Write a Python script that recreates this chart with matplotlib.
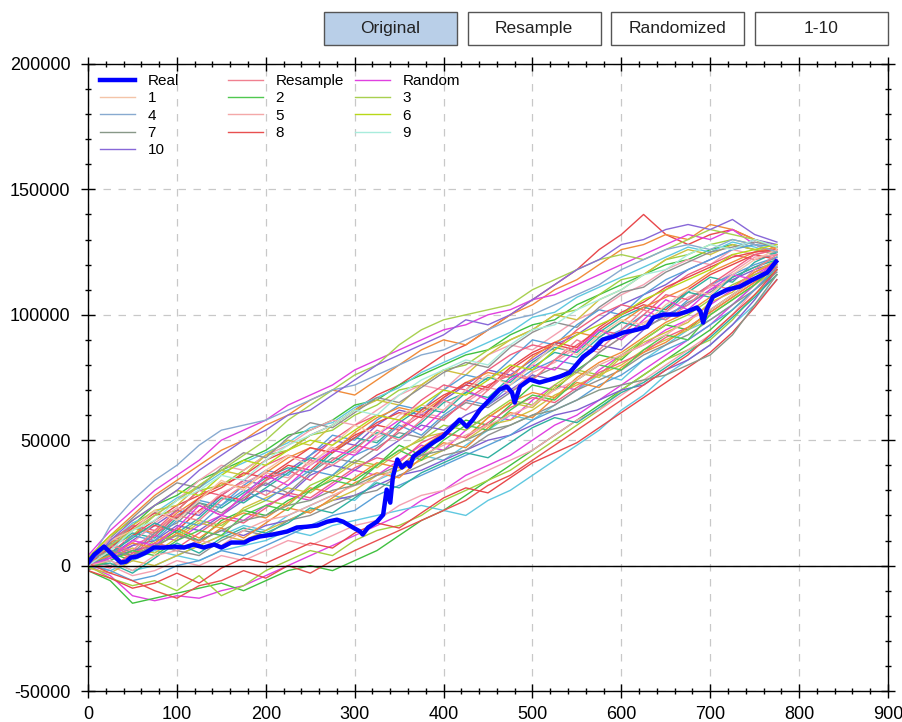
import matplotlib
matplotlib.use('Agg')
import matplotlib.pyplot as plt
from matplotlib.patches import Rectangle
from matplotlib.legend import Legend
from matplotlib.ticker import MultipleLocator
import numpy as np

plt.rcParams['font.family'] = ['Liberation Sans', 'DejaVu Sans']
plt.rcParams['axes.unicode_minus'] = False

# trade number grid for the simulated runs (values in thousands)
steps = list(range(0, 800, 25))

# real equity curve
real_x = [1, 7, 18, 24, 31, 37, 43, 48, 55, 65, 74, 86, 97, 108, 119, 130, 142, 150, 161, 176,
          182, 193, 208, 224, 235, 246, 258, 269, 280, 287, 298, 306, 309, 315, 325, 332, 336, 340,
          343, 348, 353, 359, 362, 366, 377, 388, 399, 407, 418, 426, 433, 441, 452, 463, 471, 477,
          480, 486, 497, 508, 520, 531, 542, 557, 568, 579, 591, 602, 618, 629, 636, 647, 663, 674,
          685, 689, 692, 696, 703, 719, 733, 748, 764, 774]
real_y = [1600, 4400, 7600, 5600, 3200, 1200, 1600, 3200, 3600, 5200, 7200, 7200, 7600, 7200, 8400,
          7200, 8400, 7200, 9200, 9200, 10400, 11600, 12400, 13600, 15200, 15500, 16000, 17500, 18300,
          17500, 15200, 13600, 12400, 15200, 17500, 20300, 30300, 25100, 35500, 42300, 39100, 41100,
          39500, 43500, 46200, 49000, 51400, 54200, 58200, 55400, 58200, 62200, 66200, 70200, 71400,
          69000, 65000, 71400, 74200, 73000, 74200, 75400, 77000, 83300, 86100, 90100, 91300, 92900,
          94100, 95300, 98900, 100100, 100100, 101300, 102900, 101300, 96900, 102100, 107200, 110000,
          111200, 114000, 116800, 121200]

# labelled runs (legend entries)
run_labels = ['Resample', 'Random', '1', '2', '3', '4', '5', '6', '7', '8', '9', '10']
run_colors = ['#f08090', '#e040e0', '#f4c4a8', '#50c850', '#a8d050', '#88aad0',
              '#f4a8a8', '#b8d818', '#889888', '#e85050', '#a8ecdc', '#8868d8']
labelled_runs = [
    [1, 8, 6, 14, 20, 18, 26, 32, 28, 34, 42, 40, 46, 54, 50, 58, 66, 62, 70, 78, 74, 82, 90, 86, 94, 102, 98, 104, 112, 110, 118, 124],
    [0, 3, 10, 8, 15, 24, 20, 28, 36, 32, 40, 46, 44, 52, 58, 54, 62, 70, 66, 74, 80, 78, 86, 94, 90, 98, 106, 102, 110, 116, 114, 122],
    [2, 10, 14, 22, 18, 26, 34, 30, 38, 44, 40, 48, 56, 52, 60, 64, 62, 70, 76, 72, 80, 88, 84, 92, 98, 96, 104, 110, 108, 116, 122, 126],
    [-1, 2, 6, 4, 10, 14, 12, 20, 24, 22, 30, 34, 32, 40, 46, 42, 50, 56, 54, 62, 68, 66, 74, 80, 78, 86, 92, 90, 100, 106, 112, 120],
    [2, 8, 14, 20, 26, 32, 38, 44, 50, 58, 64, 70, 76, 80, 88, 94, 98, 100, 102, 104, 110, 114, 118, 122, 124, 122, 126, 130, 134, 132, 130, 127],
    [0, 16, 26, 34, 40, 48, 54, 56, 58, 62, 66, 70, 72, 76, 80, 84, 86, 90, 94, 98, 100, 104, 108, 112, 118, 122, 126, 128, 126, 130, 128, 125],
    [0, 2, -2, 4, 6, 10, 8, 14, 18, 20, 24, 28, 32, 34, 40, 44, 48, 52, 56, 60, 64, 70, 74, 80, 84, 88, 92, 98, 102, 108, 114, 120],
    [3, 12, 18, 24, 30, 28, 36, 42, 40, 46, 50, 48, 54, 60, 58, 64, 70, 68, 74, 80, 78, 86, 92, 96, 100, 106, 110, 114, 118, 124, 126, 128],
    [2, 6, 4, 8, 12, 10, 14, 18, 20, 24, 26, 30, 32, 36, 40, 44, 46, 50, 54, 56, 60, 62, 66, 70, 72, 74, 76, 80, 84, 92, 104, 116],
    [1, -3, -6, -10, -13, -8, -6, -2, -5, 0, -3, 2, 6, 10, 14, 18, 22, 26, 32, 36, 42, 48, 54, 60, 66, 72, 78, 84, 92, 100, 108, 118],
    [0, 6, 14, 18, 26, 30, 36, 34, 42, 48, 52, 56, 62, 60, 68, 74, 78, 82, 80, 88, 94, 96, 102, 106, 110, 116, 118, 124, 128, 126, 130, 127],
    [0, 10, 18, 24, 30, 38, 44, 50, 54, 60, 62, 68, 74, 80, 84, 88, 92, 98, 96, 100, 106, 112, 118, 122, 128, 130, 134, 136, 134, 138, 132, 129],
]

# remaining runs, no legend
upper_runs = [
    [1, 5, 12, 18, 24, 28, 32, 36, 42, 46, 52, 56, 62, 68, 72, 78, 84, 88, 94, 100, 106, 112, 118, 126, 132, 140, 132, 128, 132, 134, 130, 127],
    [3, 12, 20, 28, 34, 40, 46, 50, 56, 60, 66, 70, 68, 74, 80, 86, 90, 88, 94, 100, 104, 110, 114, 120, 126, 128, 132, 130, 136, 134, 130, 126],
    [4, 14, 22, 30, 36, 42, 50, 54, 58, 64, 68, 72, 78, 82, 86, 90, 94, 96, 100, 102, 106, 108, 112, 116, 120, 124, 128, 132, 130, 134, 128, 124],
    [2, 10, 16, 24, 28, 34, 38, 42, 46, 52, 54, 58, 64, 66, 72, 76, 80, 84, 86, 92, 96, 98, 104, 108, 112, 116, 120, 122, 126, 128, 126, 124],
    [1, 8, 12, 20, 22, 30, 32, 38, 44, 46, 52, 54, 60, 64, 70, 72, 78, 80, 86, 90, 94, 100, 102, 108, 114, 116, 122, 124, 128, 130, 128, 125],
    [3, 9, 17, 21, 27, 31, 37, 41, 45, 49, 55, 57, 63, 67, 71, 77, 81, 85, 89, 93, 99, 101, 107, 111, 115, 119, 123, 127, 125, 129, 127, 124],
    [-2, 4, 10, 16, 22, 20, 28, 34, 32, 38, 44, 50, 48, 56, 62, 60, 66, 72, 78, 76, 82, 88, 92, 98, 104, 108, 112, 118, 122, 126, 130, 128],
    [0, 6, 14, 20, 26, 34, 40, 38, 44, 48, 54, 58, 56, 62, 68, 72, 70, 78, 84, 88, 86, 92, 98, 102, 108, 112, 118, 122, 120, 126, 124, 126],
    [2, 8, 16, 22, 24, 32, 38, 36, 44, 50, 48, 56, 62, 66, 64, 72, 78, 76, 84, 90, 94, 100, 98, 106, 110, 116, 122, 126, 124, 128, 126, 125],
    [1, 11, 19, 27, 33, 31, 39, 45, 43, 51, 57, 55, 61, 67, 65, 71, 77, 81, 79, 87, 93, 97, 95, 103, 109, 111, 117, 121, 125, 127, 129, 127],
    [0, 8, 16, 12, 20, 26, 24, 32, 38, 36, 44, 52, 50, 58, 64, 62, 70, 76, 74, 82, 90, 88, 96, 102, 100, 108, 114, 118, 122, 126, 128, 127],
    [3, 10, 16, 14, 22, 30, 28, 34, 40, 44, 42, 50, 56, 60, 58, 66, 72, 70, 78, 84, 88, 86, 94, 100, 104, 102, 110, 116, 120, 124, 122, 124],
]
middle_runs = [
    [1, 7, 13, 11, 19, 25, 23, 29, 35, 39, 37, 45, 51, 49, 57, 63, 61, 69, 75, 73, 81, 87, 85, 93, 99, 103, 101, 109, 115, 113, 121, 125],
    [2, 4, 12, 16, 14, 22, 28, 26, 34, 40, 38, 46, 52, 56, 54, 62, 68, 72, 70, 78, 84, 88, 86, 94, 100, 104, 102, 110, 116, 120, 124, 122],
    [0, 9, 15, 13, 21, 27, 33, 31, 37, 43, 47, 45, 53, 59, 63, 61, 67, 73, 77, 75, 83, 89, 93, 91, 97, 103, 107, 111, 117, 121, 125, 127],
    [1, 2, 8, 12, 10, 16, 20, 18, 24, 28, 26, 32, 38, 36, 42, 48, 46, 54, 60, 58, 66, 72, 70, 78, 84, 88, 94, 98, 104, 110, 116, 121],
    [0, 5, 2, 8, 14, 10, 18, 22, 20, 26, 30, 36, 34, 40, 48, 44, 52, 58, 56, 64, 72, 70, 78, 84, 82, 90, 96, 94, 102, 108, 114, 118],
    [3, 6, 4, 10, 12, 18, 16, 22, 26, 24, 32, 36, 42, 40, 46, 50, 56, 54, 60, 66, 64, 72, 78, 76, 84, 90, 96, 100, 106, 112, 116, 119],
    [1, -2, 2, 6, 4, 8, 12, 16, 14, 20, 24, 28, 26, 34, 38, 44, 42, 48, 54, 60, 58, 64, 70, 76, 74, 82, 88, 94, 98, 104, 112, 120],
    [0, 4, 8, 10, 16, 14, 20, 26, 30, 28, 36, 40, 38, 44, 50, 56, 54, 60, 64, 70, 76, 74, 80, 88, 86, 94, 100, 104, 110, 114, 118, 121],
    [2, 11, 9, 17, 23, 21, 29, 33, 37, 35, 41, 47, 45, 51, 55, 61, 59, 65, 71, 69, 77, 81, 87, 85, 91, 97, 101, 107, 111, 117, 123, 124],
    [0, 3, 7, 5, 11, 17, 15, 23, 27, 31, 29, 35, 41, 39, 45, 51, 53, 51, 59, 65, 63, 71, 77, 75, 83, 89, 93, 97, 105, 109, 117, 122],
    [1, 9, 5, 13, 17, 25, 21, 27, 33, 29, 37, 43, 41, 47, 53, 51, 59, 65, 63, 69, 75, 79, 77, 85, 91, 95, 99, 105, 109, 115, 119, 123],
    [0, 4, 12, 10, 18, 16, 24, 30, 26, 32, 38, 36, 44, 48, 56, 52, 60, 66, 64, 72, 78, 82, 80, 90, 94, 100, 98, 106, 112, 116, 120, 123],
    [2, 8, 4, 12, 20, 24, 20, 28, 34, 38, 34, 42, 48, 46, 54, 60, 58, 66, 72, 76, 74, 82, 88, 94, 92, 100, 108, 106, 112, 118, 124, 126],
    [-1, 5, 11, 17, 13, 19, 27, 25, 31, 37, 43, 41, 47, 53, 51, 57, 65, 69, 67, 75, 79, 85, 83, 91, 97, 95, 103, 109, 107, 115, 119, 122],
    [2, 7, 15, 21, 19, 27, 31, 37, 35, 41, 47, 45, 51, 57, 61, 59, 67, 73, 71, 79, 85, 89, 87, 95, 101, 105, 111, 115, 119, 123, 125, 126],
    [0, 6, 3, 9, 15, 11, 17, 21, 19, 25, 31, 29, 35, 41, 39, 47, 53, 51, 59, 65, 69, 67, 75, 81, 85, 91, 97, 101, 107, 111, 117, 121],
]
lower_runs = [
    [0, -4, -12, -14, -12, -13, -10, -8, -4, 0, 4, 8, 12, 16, 20, 26, 30, 36, 40, 44, 50, 56, 60, 66, 72, 78, 84, 90, 96, 104, 112, 120],
    [-2, -6, -15, -13, -11, -9, -7, -10, -6, -2, 0, -2, 2, 6, 12, 18, 22, 28, 34, 40, 46, 52, 58, 64, 70, 76, 82, 88, 94, 102, 110, 118],
    [0, -5, -8, -6, -10, -4, -12, -8, -2, 2, 6, 4, 10, 14, 16, 20, 26, 30, 34, 38, 44, 50, 56, 62, 70, 76, 82, 86, 90, 98, 108, 116],
    [0, 2, -2, 0, 4, 2, 6, 8, 10, 14, 12, 16, 18, 20, 22, 24, 22, 20, 26, 30, 36, 42, 48, 54, 62, 68, 76, 82, 88, 96, 104, 114],
    [0, 3, 6, 8, 6, 10, 14, 12, 16, 18, 22, 26, 28, 32, 36, 38, 42, 46, 50, 52, 56, 60, 62, 66, 70, 72, 78, 82, 88, 96, 106, 118],
    [1, 0, -4, -2, 2, 0, 4, 2, 6, 10, 8, 12, 16, 18, 24, 28, 30, 34, 38, 42, 46, 52, 58, 62, 68, 74, 80, 86, 92, 100, 110, 120],
    [-1, -3, 2, 0, 4, 8, 12, 10, 14, 18, 22, 26, 30, 36, 38, 42, 46, 50, 56, 58, 62, 68, 72, 76, 80, 86, 90, 94, 100, 106, 112, 118],
    [2, 0, 4, 8, 6, 4, 10, 14, 12, 18, 20, 24, 28, 30, 36, 40, 44, 46, 52, 56, 60, 64, 70, 74, 78, 84, 88, 92, 98, 104, 110, 117],
    [0, -2, -6, -4, 0, 2, 6, 4, 8, 12, 16, 20, 22, 28, 32, 36, 40, 44, 48, 52, 58, 62, 66, 72, 76, 82, 86, 90, 96, 102, 110, 119],
    [1, -1, 5, 9, 7, 13, 19, 17, 23, 29, 27, 33, 39, 43, 41, 49, 53, 51, 57, 63, 67, 65, 71, 77, 81, 85, 91, 95, 101, 107, 113, 119],
    [0, 1, -3, 3, 9, 5, 11, 15, 13, 17, 23, 21, 27, 33, 31, 37, 41, 45, 43, 49, 55, 59, 57, 63, 69, 73, 79, 85, 91, 99, 107, 116],
    [-2, -5, -9, -7, -3, -7, -1, 3, 1, 5, 9, 7, 13, 17, 15, 21, 27, 31, 29, 35, 41, 45, 49, 55, 61, 67, 73, 79, 85, 93, 103, 114],
    [1, 4, 9, 7, 13, 9, 15, 11, 17, 23, 21, 27, 33, 37, 35, 43, 49, 47, 55, 61, 59, 67, 73, 71, 79, 85, 89, 95, 101, 107, 113, 120],
]
extra_colors = ['#e8474b', '#f08c3a', '#e040e0', '#40c040', '#a0d040', '#60c8e0', '#8060d0',
                '#f4a0b0', '#d0c040', '#909090', '#5aa0d8', '#f06080', '#30b0a0']

fig = plt.figure(figsize=(9.02, 7.22), dpi=100)
ax = fig.add_axes([0.0976, 0.0429, 0.8869, 0.8685])

# buttons along the top
buttons = ['Original', 'Resample', 'Randomized', '1-10']
for i, name in enumerate(buttons):
    x0 = (324 + i * 143.5) / 902
    face = '#b9cfe8' if i == 0 else 'white'
    fig.add_artist(Rectangle((x0, 1 - 45 / 722), 133 / 902, 33 / 722, transform=fig.transFigure,
                             facecolor=face, edgecolor='#555555', linewidth=1))
    fig.text(x0 + 66.5 / 902, 1 - 28.5 / 722, name, ha='center', va='center', fontsize=12.5, color='#222222')

k = 0
for group in [upper_runs, middle_runs, lower_runs]:
    for run in group:
        ax.plot(steps, np.array(run) * 1000, color=extra_colors[k % len(extra_colors)], linewidth=1.0)
        k = k + 1

handles = {}
for lab, col, run in zip(run_labels, run_colors, labelled_runs):
    handles[lab], = ax.plot(steps, np.array(run) * 1000, color=col, linewidth=1.0)

ax.axhline(0, color='black', linewidth=1)
handles['Real'], = ax.plot(real_x, real_y, color='#0000ff', linewidth=3.2)

# legend in three fixed-width columns
columns = [(['Real', '1', '4', '7', '10'], 0.015),
           (['Resample', '2', '5', '8'], 0.175),
           (['Random', '3', '6', '9'], 0.334)]
for names, xpos in columns:
    leg = Legend(ax, [handles[n] for n in names], names, loc='upper left', frameon=False, fontsize=11,
                 handlelength=2.3, handletextpad=0.8, labelspacing=0.22, borderpad=0,
                 borderaxespad=0, bbox_to_anchor=(xpos, 0.984))
    ax.add_artist(leg)

ax.set_xlim(0, 900)
ax.set_ylim(-50000, 200000)
ax.xaxis.set_major_locator(MultipleLocator(100))
ax.xaxis.set_minor_locator(MultipleLocator(20))
ax.yaxis.set_major_locator(MultipleLocator(50000))
ax.yaxis.set_minor_locator(MultipleLocator(10000))
ax.tick_params(which='both', direction='inout', top=True, right=True, labelsize=13)
ax.tick_params(which='major', length=9.5, width=1)
ax.tick_params(which='minor', length=4.5, width=1)
ax.tick_params(axis='y', pad=8)
ax.tick_params(axis='x', pad=6)
ax.grid(True, which='major', color='#c8c8c8', linestyle=(0, (6, 6)), linewidth=0.9)
for s in ax.spines.values():
    s.set_linewidth(1)

fig.savefig('out.png', dpi=100)
